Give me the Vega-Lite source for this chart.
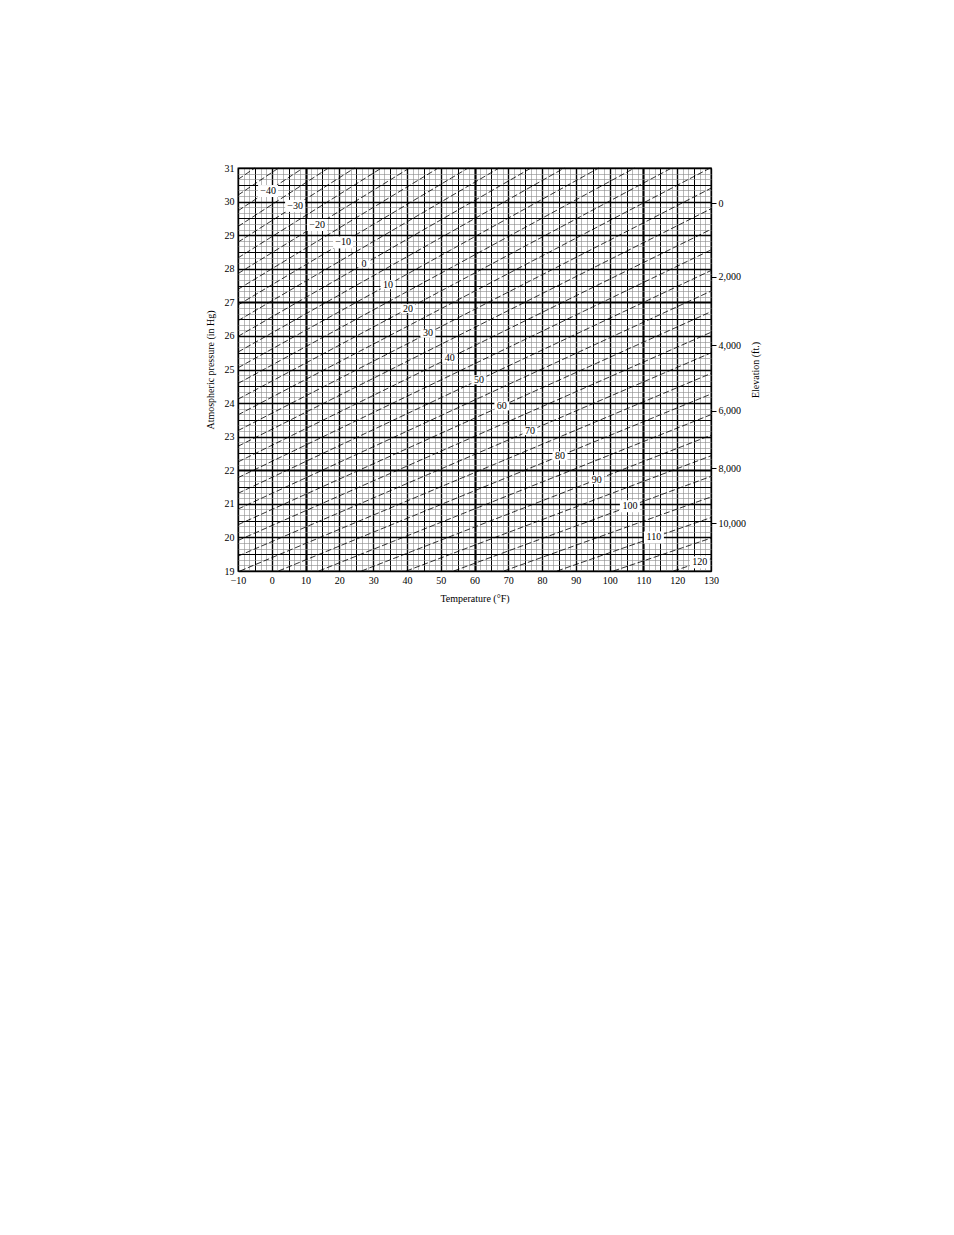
{
  "$schema": "https://vega.github.io/schema/vega-lite/v6.json",
  "autosize": "none",
  "padding": {"left": 238, "top": 168, "right": 243, "bottom": 664},
  "width": 473,
  "height": 403,
  "background": "white",
  "datasets": {
    "lines": [
      {"L": -50, "T": -10, "p": 30.660, "T2": -5.02, "p2": 31},
      {"L": -45, "T": -10, "p": 30.193, "T2": 2.02, "p2": 31},
      {"L": -40, "T": -10, "p": 29.726, "T2": 9.28, "p2": 31},
      {"L": -35, "T": -10, "p": 29.258, "T2": 16.77, "p2": 31},
      {"L": -30, "T": -10, "p": 28.791, "T2": 24.51, "p2": 31},
      {"L": -25, "T": -10, "p": 28.323, "T2": 32.49, "p2": 31},
      {"L": -20, "T": -10, "p": 27.856, "T2": 40.76, "p2": 31},
      {"L": -15, "T": -10, "p": 27.388, "T2": 49.29, "p2": 31},
      {"L": -10, "T": -10, "p": 26.921, "T2": 58.14, "p2": 31},
      {"L": -5, "T": -10, "p": 26.454, "T2": 67.28, "p2": 31},
      {"L": 0, "T": -10, "p": 25.986, "T2": 76.76, "p2": 31},
      {"L": 5, "T": -10, "p": 25.519, "T2": 86.59, "p2": 31},
      {"L": 10, "T": -10, "p": 25.051, "T2": 96.78, "p2": 31},
      {"L": 15, "T": -10, "p": 24.584, "T2": 107.36, "p2": 31},
      {"L": 20, "T": -10, "p": 24.116, "T2": 118.35, "p2": 31},
      {"L": 25, "T": -10, "p": 23.649, "T2": 129.77, "p2": 31},
      {"L": 30, "T": -10, "p": 23.181, "T2": 130, "p2": 30.398},
      {"L": 35, "T": -10, "p": 22.714, "T2": 130, "p2": 29.786},
      {"L": 40, "T": -10, "p": 22.247, "T2": 130, "p2": 29.173},
      {"L": 45, "T": -10, "p": 21.779, "T2": 130, "p2": 28.560},
      {"L": 50, "T": -10, "p": 21.312, "T2": 130, "p2": 27.947},
      {"L": 55, "T": -10, "p": 20.844, "T2": 130, "p2": 27.334},
      {"L": 60, "T": -10, "p": 20.377, "T2": 130, "p2": 26.721},
      {"L": 65, "T": -10, "p": 19.909, "T2": 130, "p2": 26.108},
      {"L": 70, "T": -10, "p": 19.442, "T2": 130, "p2": 25.495},
      {"L": 75, "T": -9.40, "p": 19, "T2": 130, "p2": 24.882},
      {"L": 80, "T": 1.98, "p": 19, "T2": 130, "p2": 24.269},
      {"L": 85, "T": 13.93, "p": 19, "T2": 130, "p2": 23.656},
      {"L": 90, "T": 26.54, "p": 19, "T2": 130, "p2": 23.043},
      {"L": 95, "T": 39.82, "p": 19, "T2": 130, "p2": 22.430},
      {"L": 100, "T": 53.86, "p": 19, "T2": 130, "p2": 21.817},
      {"L": 105, "T": 68.69, "p": 19, "T2": 130, "p2": 21.205},
      {"L": 110, "T": 84.43, "p": 19, "T2": 130, "p2": 20.591},
      {"L": 115, "T": 101.11, "p": 19, "T2": 130, "p2": 19.979},
      {"L": 120, "T": 118.87, "p": 19, "T2": 130, "p2": 19.365}
    ],
    "labels": [
      {"label": "−40", "T": -1.1, "p": 30.314},
      {"label": "−30", "T": 6.9, "p": 29.872},
      {"label": "−20", "T": 13.4, "p": 29.305},
      {"label": "−10", "T": 21.1, "p": 28.783},
      {"label": "0", "T": 27.3, "p": 28.141},
      {"label": "10", "T": 34.4, "p": 27.525},
      {"label": "20", "T": 40.3, "p": 26.814},
      {"label": "30", "T": 46.2, "p": 26.079},
      {"label": "40", "T": 52.7, "p": 25.349},
      {"label": "50", "T": 61.3, "p": 24.691},
      {"label": "60", "T": 68.1, "p": 23.916},
      {"label": "70", "T": 76.4, "p": 23.178},
      {"label": "80", "T": 85.3, "p": 22.429},
      {"label": "90", "T": 96.2, "p": 21.722},
      {"label": "100", "T": 106, "p": 20.929},
      {"label": "110", "T": 113.1, "p": 20.001},
      {"label": "120", "T": 126.7, "p": 19.257}
    ],
    "elevation": [
      {"elevation": "0", "p": 29.946},
      {"elevation": "2,000", "p": 27.755},
      {"elevation": "4,000", "p": 25.716},
      {"elevation": "6,000", "p": 23.776},
      {"elevation": "8,000", "p": 22.066},
      {"elevation": "10,000", "p": 20.424}
    ]
  },
  "layer": [
    {
      "data": {"name": "lines"},
      "mark": {"type": "rule", "color": "black", "strokeWidth": 0.8, "strokeDash": [6, 2.5]},
      "encoding": {
        "x": {
          "field": "T",
          "type": "quantitative",
          "scale": {"domain": [-10, 130], "nice": false, "zero": false},
          "axis": {
            "title": "Temperature (°F)",
            "orient": "bottom",
            "values": [-10, -8.3333, -6.6667, -5, -3.3333, -1.6667, 0, 1.6667, 3.3333, 5, 6.6667, 8.3333, 10, 11.6667, 13.3333, 15, 16.6667, 18.3333, 20, 21.6667, 23.3333, 25, 26.6667, 28.3333, 30, 31.6667, 33.3333, 35, 36.6667, 38.3333, 40, 41.6667, 43.3333, 45, 46.6667, 48.3333, 50, 51.6667, 53.3333, 55, 56.6667, 58.3333, 60, 61.6667, 63.3333, 65, 66.6667, 68.3333, 70, 71.6667, 73.3333, 75, 76.6667, 78.3333, 80, 81.6667, 83.3333, 85, 86.6667, 88.3333, 90, 91.6667, 93.3333, 95, 96.6667, 98.3333, 100, 101.6667, 103.3333, 105, 106.6667, 108.3333, 110, 111.6667, 113.3333, 115, 116.6667, 118.3333, 120, 121.6667, 123.3333, 125, 126.6667, 128.3333, 130],
            "labelExpr": "abs(datum.value % 10) < 0.01 ? (datum.value < 0 ? '−' + abs(datum.value) : '' + datum.value) : ''",
            "labelOverlap": false,
            "labelFlush": false,
            "labelPadding": 4,
            "ticks": false,
            "domain": false,
            "grid": true,
            "gridColor": {"condition": {"test": "abs(datum.value % 5) < 0.01", "value": "black"}, "value": "#8a8a8a"},
            "gridWidth": {
              "condition": [
                {"test": "abs(datum.value - 10) % 50 < 0.01", "value": 2.2},
                {"test": "abs(datum.value % 10) < 0.01", "value": 1.4},
                {"test": "abs(datum.value % 5) < 0.01", "value": 1}
              ],
              "value": 0.6
            },
            "titlePadding": 8
          }
        },
        "y": {
          "field": "p",
          "type": "quantitative",
          "scale": {"domain": [19, 31], "nice": false, "zero": false},
          "axis": {
            "title": "Atmospheric pressure (in Hg)",
            "orient": "left",
            "values": [19, 19.1667, 19.3333, 19.5, 19.6667, 19.8333, 20, 20.1667, 20.3333, 20.5, 20.6667, 20.8333, 21, 21.1667, 21.3333, 21.5, 21.6667, 21.8333, 22, 22.1667, 22.3333, 22.5, 22.6667, 22.8333, 23, 23.1667, 23.3333, 23.5, 23.6667, 23.8333, 24, 24.1667, 24.3333, 24.5, 24.6667, 24.8333, 25, 25.1667, 25.3333, 25.5, 25.6667, 25.8333, 26, 26.1667, 26.3333, 26.5, 26.6667, 26.8333, 27, 27.1667, 27.3333, 27.5, 27.6667, 27.8333, 28, 28.1667, 28.3333, 28.5, 28.6667, 28.8333, 29, 29.1667, 29.3333, 29.5, 29.6667, 29.8333, 30, 30.1667, 30.3333, 30.5, 30.6667, 30.8333, 31],
            "labelExpr": "abs(datum.value % 1) < 0.01 ? '' + datum.value : ''",
            "labelOverlap": false,
            "labelFlush": false,
            "labelPadding": 4,
            "ticks": false,
            "domain": false,
            "grid": true,
            "gridColor": {"condition": {"test": "abs(datum.value % 0.5) < 0.01", "value": "black"}, "value": "#8a8a8a"},
            "gridWidth": {
              "condition": [
                {"test": "abs(datum.value - 22) % 5 < 0.01", "value": 2.2},
                {"test": "abs(datum.value % 1) < 0.01", "value": 1.4},
                {"test": "abs(datum.value % 0.5) < 0.01", "value": 1}
              ],
              "value": 0.6
            },
            "titlePadding": 9
          }
        },
        "x2": {"field": "T2"},
        "y2": {"field": "p2"}
      }
    },
    {
      "data": {"name": "labels"},
      "mark": {"type": "point", "shape": "M-1,-0.6H1V0.6H-1Z", "filled": true, "color": "white", "opacity": 1, "strokeWidth": 0},
      "encoding": {
        "x": {"field": "T", "type": "quantitative", "axis": null},
        "y": {"field": "p", "type": "quantitative", "axis": null},
        "size": {
          "condition": [
            {"test": "length(datum.label) >= 3", "value": 400},
            {"test": "length(datum.label) == 2", "value": 225}
          ],
          "value": 144
        }
      }
    },
    {
      "data": {"name": "labels"},
      "mark": {"type": "text", "font": "Liberation Serif", "fontSize": 10, "color": "black", "align": "center", "baseline": "middle"},
      "encoding": {
        "x": {"field": "T", "type": "quantitative", "axis": null},
        "y": {"field": "p", "type": "quantitative", "axis": null},
        "text": {"field": "label"}
      }
    },
    {
      "data": {"name": "elevation"},
      "mark": {"type": "point", "opacity": 0},
      "encoding": {
        "y": {
          "field": "p",
          "type": "quantitative",
          "axis": {
            "title": "Elevation (ft.)",
            "orient": "right",
            "values": [29.946, 27.755, 25.716, 23.776, 22.066, 20.424],
            "labelExpr": "datum.value > 29 ? '0' : datum.value > 27 ? '2,000' : datum.value > 25 ? '4,000' : datum.value > 23 ? '6,000' : datum.value > 21 ? '8,000' : '10,000'",
            "labelOverlap": false,
            "labelFlush": false,
            "grid": false,
            "domain": false,
            "ticks": true,
            "tickSize": 5,
            "tickColor": "black",
            "tickWidth": 1,
            "labelPadding": 2,
            "titleAngle": 270,
            "titleBaseline": "top",
            "titlePadding": 5
          }
        }
      }
    }
  ],
  "resolve": {"axis": {"x": "independent", "y": "independent"}},
  "config": {
    "view": {"stroke": "black", "strokeWidth": 1.3},
    "axis": {
      "labelFont": "Liberation Serif",
      "labelFontSize": 10,
      "labelColor": "black",
      "titleFont": "Liberation Serif",
      "titleFontSize": 10,
      "titleFontWeight": "normal",
      "titleColor": "black"
    }
  }
}
